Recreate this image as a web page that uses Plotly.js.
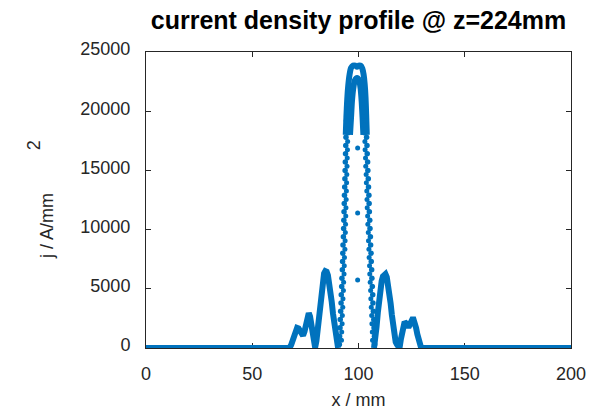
<!DOCTYPE html>
<html>
<head>
<meta charset="utf-8">
<script src="https://cdn.plot.ly/plotly-3.0.1.min.js"></script>
<style>html,body{margin:0;padding:0;background:#fff;}</style>
</head>
<body>
<div id="chart" style="width:607px;height:415px;"></div>
<script>
// ---- data ----
// left side lobes incl. baseline (x in mm, j in A/mm^2)
const xLeftLobes = [0, 67.5, 68.3, 69.0, 69.7, 70.4, 71.1, 71.8, 72.5, 73.2, 73.9, 74.6, 75.3, 76.0, 76.6, 77.2, 77.8, 78.4, 79.0, 79.6, 80.2, 80.8, 81.4, 82.0, 82.6, 83.2, 83.8, 84.4, 85.0, 85.6, 86.2, 86.8, 87.4, 88.0, 88.6, 89.2, 89.8, 90.4];
const yLeftLobes = [0, 0, 250, 650, 1100, 1450, 1700, 1650, 1400, 1150, 1050, 1400, 2100, 2700, 2950, 2650, 1900, 1050, 350, 50, 600, 1700, 2900, 4000, 5000, 5800, 6300, 6500, 6450, 6150, 5600, 4800, 3900, 2900, 2000, 1200, 500, 0];
// right side lobes incl. baseline
const xRightLobes = [107.3, 107.9, 108.5, 109.1, 109.7, 110.3, 110.9, 111.5, 112.1, 112.7, 113.3, 113.9, 114.5, 115.1, 115.7, 116.3, 116.9, 117.5, 118.1, 118.7, 119.3, 119.9, 120.5, 121.1, 121.7, 122.3, 122.9, 123.5, 124.1, 124.7, 125.3, 125.9, 126.5, 127.1, 127.7, 128.3, 128.9, 129.5, 130.1, 200];
const yRightLobes = [0, 700, 1800, 3000, 4100, 5000, 5650, 6050, 6250, 6250, 6000, 5450, 4700, 3800, 2800, 1900, 1100, 500, 300, 50, 0, 700, 1500, 2000, 2200, 2100, 1850, 1750, 1950, 2250, 2400, 2400, 2150, 1700, 1150, 600, 200, 0, 0, 0];
// main peak: upper arcs
const xPeakOuter = [94.0, 94.3, 94.7, 95.2, 95.8, 96.5, 97.5, 98.5, 99.3, 100.1, 101.0, 101.8, 102.4, 102.9, 103.3, 103.6, 103.9];
const yPeakOuter = [18000, 19500, 21000, 22200, 23100, 23650, 23850, 23850, 23750, 23850, 23850, 23600, 23100, 22300, 21200, 19800, 18000];
const xPeakInner = [96.0, 96.5, 96.9, 97.5, 98.3, 99.3, 100.3, 101.0, 101.5, 101.9, 102.3];
const yPeakInner = [18000, 19500, 20800, 21900, 22600, 22800, 22600, 21900, 20800, 19500, 18000];
// main peak: sampled points on the steep flanks
const yFlankA = [300, 1000, 1700, 2400, 3100, 3800, 4500, 5200, 5900, 6600, 7300, 8000, 8700, 9400, 10100, 10800, 11500, 12200, 12900, 13600, 14300, 15000, 15700, 16400, 17100, 17800, 18500, 19200, 19900, 20600];
const xFlankLeftA = [91.0, 91.1, 91.3, 91.4, 91.6, 91.8, 91.9, 92.1, 92.2, 92.4, 92.5, 92.6, 92.7, 92.9, 93.0, 93.1, 93.2, 93.3, 93.4, 93.5, 93.6, 93.7, 93.8, 93.9, 94.0, 94.1, 94.2, 94.35, 94.5, 94.7];
const xFlankRightA = [107.6, 107.5, 107.3, 107.2, 107.0, 106.8, 106.7, 106.5, 106.3, 106.2, 106.0, 105.9, 105.7, 105.6, 105.4, 105.3, 105.1, 105.0, 104.9, 104.7, 104.6, 104.4, 104.3, 104.1, 104.0, 103.8, 103.6, 103.4, 103.2, 103.0];
const yFlankB = [650, 1350, 2050, 2750, 3450, 4150, 4850, 5550, 6250, 6950, 7650, 8350, 9050, 9750, 10450, 11150, 11850, 12550, 13250, 13950, 14650, 15350, 16050, 16750, 17450, 18150, 18850, 19550, 20250];
const xFlankLeftB = [92.0, 92.1, 92.3, 92.4, 92.6, 92.7, 92.9, 93.0, 93.2, 93.3, 93.4, 93.6, 93.7, 93.8, 93.9, 94.0, 94.1, 94.2, 94.3, 94.4, 94.5, 94.6, 94.7, 94.8, 94.9, 95.1, 95.3, 95.6, 95.9];
const xFlankRightB = [106.6, 106.5, 106.3, 106.2, 106.0, 105.8, 105.7, 105.5, 105.3, 105.2, 105.0, 104.9, 104.7, 104.6, 104.4, 104.3, 104.1, 104.0, 103.9, 103.7, 103.6, 103.4, 103.3, 103.1, 103.0, 102.8, 102.6, 102.4, 102.2];
// isolated points on the axis of the beam
const xCenterPts = [99.6, 99.6, 99.6];
const yCenterPts = [5740, 11400, 16900];

const xTicks = [0, 50, 100, 150, 200];
const yTicks = [0, 5000, 10000, 15000, 20000, 25000];

// ---- drawing ----
const blue = '#0072BD';
const lineTrace = (x, y, w, shape) => ({x, y, type: 'scatter', mode: 'lines', line: {color: blue, width: w, shape: shape, smoothing: 0.6}, cliponaxis: false, hoverinfo: 'skip'});
const dotTrace = (x, y, s) => ({x, y, type: 'scatter', mode: 'markers', marker: {color: blue, size: s}, cliponaxis: false, hoverinfo: 'skip'});

const data = [
  lineTrace(xLeftLobes, yLeftLobes, 6, 'linear'),
  lineTrace(xRightLobes, yRightLobes, 6, 'linear'),
  lineTrace(xPeakOuter, yPeakOuter, 6, 'spline'),
  lineTrace(xPeakInner, yPeakInner, 6, 'spline'),
  dotTrace(xFlankLeftA, yFlankA, 5.5),
  dotTrace(xFlankRightA, yFlankA, 5.5),
  dotTrace(xFlankLeftB, yFlankB, 5),
  dotTrace(xFlankRightB, yFlankB, 5),
  dotTrace(xCenterPts, yCenterPts, 5)
];

const fam = 'Liberation Sans, Arial, sans-serif';
const axisFont = {family: fam, size: 18, color: '#262626'};
const layout = {
  width: 607, height: 415,
  margin: {l: 146, r: 36, t: 52, b: 67},
  paper_bgcolor: '#ffffff', plot_bgcolor: '#ffffff',
  showlegend: false,
  title: {text: '<b>current density profile @ z=224mm</b>', font: {family: fam, size: 25, color: '#000000'}, x: 0.5, xref: 'paper', xanchor: 'center', y: 0.952, yref: 'container', yanchor: 'middle'},
  xaxis: {
    range: [0, 200], tickvals: xTicks, ticktext: xTicks.map(String),
    showline: true, linecolor: '#262626', linewidth: 1, mirror: 'ticks',
    ticks: 'inside', ticklen: 5, tickcolor: '#262626', showgrid: false, zeroline: false,
    tickfont: axisFont, ticklabelstandoff: 9,
    title: {text: 'x / mm', font: axisFont, standoff: 10},
    layer: 'below traces'
  },
  yaxis: {
    range: [0, 25000], tickvals: yTicks, ticktext: yTicks.map(String),
    showline: true, linecolor: '#262626', linewidth: 1, mirror: 'ticks',
    ticks: 'inside', ticklen: 5, tickcolor: '#262626', showgrid: false, zeroline: false,
    tickfont: axisFont, ticklabelstandoff: 11, ticklabelshift: -3,
    layer: 'below traces'
  },
  annotations: [
    {text: 'j / A/mm', textangle: -90, font: axisFont, xref: 'paper', yref: 'paper', x: -0.233, y: 0.412, xanchor: 'center', yanchor: 'middle', showarrow: false},
    {text: '2', textangle: -90, font: axisFont, xref: 'paper', yref: 'paper', x: -0.263, y: 0.686, xanchor: 'center', yanchor: 'middle', showarrow: false}
  ]
};

Plotly.newPlot('chart', data, layout, {staticPlot: true, displayModeBar: false});
</script>
</body>
</html>
